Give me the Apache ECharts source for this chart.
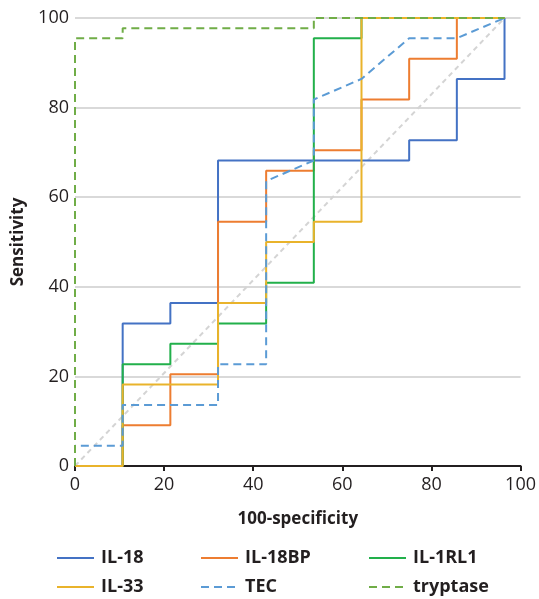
<!DOCTYPE html>
<html>
<head>
<meta charset="utf-8">
<script src="https://cdn.jsdelivr.net/npm/echarts@6/dist/echarts.min.js"></script>
<style>
  html, body { margin: 0; padding: 0; background: #fff; }
  #chart { width: 539px; height: 599px; }
</style>
</head>
<body>
<div id="chart"></div>
<script>
// 数据：100-specificity (x) 与 sensitivity (y) 的拐点
var seriesNames = ['IL-18', 'IL-18BP', 'IL-1RL1', 'IL-33', 'TEC', 'tryptase'];
var xTicks = [0, 20, 40, 60, 80, 100];
var yTicks = [0, 20, 40, 60, 80, 100];

var il18X = [0, 10.7, 10.7, 21.4, 21.4, 32.1, 32.1, 75, 75, 85.7, 85.7, 96.4, 96.4];
var il18Y = [0, 0, 31.8, 31.8, 36.4, 36.4, 68.2, 68.2, 72.7, 72.7, 86.4, 86.4, 100];

var il18bpX = [0, 10.7, 10.7, 21.4, 21.4, 32.1, 32.1, 42.9, 42.9, 53.6, 53.6, 64.3, 64.3, 75, 75, 85.7, 85.7, 96.4];
var il18bpY = [0, 0, 9.1, 9.1, 20.5, 20.5, 54.5, 54.5, 65.9, 65.9, 70.5, 70.5, 81.8, 81.8, 90.9, 90.9, 100, 100];

var il1rl1X = [0, 10.7, 10.7, 21.4, 21.4, 32.1, 32.1, 42.9, 42.9, 53.6, 53.6, 64.3, 64.3, 96.4];
var il1rl1Y = [0, 0, 22.7, 22.7, 27.3, 27.3, 31.8, 31.8, 40.9, 40.9, 95.5, 95.5, 100, 100];

var il33X = [0, 10.7, 10.7, 32.1, 32.1, 42.9, 42.9, 53.6, 53.6, 64.3, 64.3, 96.4];
var il33Y = [0, 0, 18.2, 18.2, 36.4, 36.4, 50, 50, 54.5, 54.5, 100, 100];

var tecX = [0, 0, 10.7, 10.7, 32.1, 32.1, 42.9, 42.9, 53.6, 53.6, 64.3, 75, 85.7, 96.4];
var tecY = [0, 4.5, 4.5, 13.6, 13.6, 22.7, 22.7, 63.6, 68.2, 81.8, 86.4, 95.5, 95.5, 100];

var tryptaseX = [0, 0, 10.7, 10.7, 53.6, 53.6, 96.4];
var tryptaseY = [0, 95.5, 95.5, 97.7, 97.7, 100, 100];

var refX = [0, 96.4];
var refY = [0, 100];

function pairs(xs, ys) {
    var out = [];
    for (var i = 0; i < xs.length; i++) {
        out.push([xs[i], ys[i]]);
    }
    return out;
}

var curves = [
    {name: seriesNames[0], x: il18X, y: il18Y, color: '#4472C4', type: 'solid'},
    {name: seriesNames[1], x: il18bpX, y: il18bpY, color: '#ED7D31', type: 'solid'},
    {name: seriesNames[2], x: il1rl1X, y: il1rl1Y, color: '#22B04B', type: 'solid'},
    {name: seriesNames[3], x: il33X, y: il33Y, color: '#E9B32B', type: 'solid'},
    {name: seriesNames[4], x: tecX, y: tecY, color: '#5B9BD5', type: [8, 5]},
    {name: seriesNames[5], x: tryptaseX, y: tryptaseY, color: '#70AD47', type: [8, 5]}
];

var fontFamily = '"Open Sans", "Noto Sans", sans-serif';
var textColor = '#231f20';

var series = [{
    name: 'ref',
    type: 'line',
    data: pairs(refX, refY),
    showSymbol: false,
    symbol: 'none',
    silent: true,
    lineStyle: {color: '#d4d4d4', width: 2, type: [5, 4]},
    z: 1
}];
for (var c of curves) {
    series.push({
        name: c.name,
        type: 'line',
        data: pairs(c.x, c.y),
        showSymbol: false,
        symbol: 'none',
        color: c.color,
        lineStyle: {color: c.color, width: 2, type: c.type},
        z: 2
    });
}

// 每个图例单独摆放，保持三列对齐
var legendLeft = [56, 200, 368];
var legendTop = [548, 577];
var legends = [];
for (var i = 0; i < seriesNames.length; i++) {
    legends.push({
        data: [seriesNames[i]],
        left: legendLeft[i % 3],
        top: legendTop[Math.floor(i / 3)],
        itemWidth: 37,
        itemHeight: 20,
        itemGap: 0,
        padding: 0,
        selectedMode: false,
        itemStyle: {opacity: 0},
        textStyle: {
            fontSize: 18,
            fontWeight: 'bold',
            fontFamily: fontFamily,
            color: textColor,
            lineHeight: 20,
            padding: [0, 0, 0, 2]
        }
    });
}

var chart = echarts.init(document.getElementById('chart'));
chart.setOption({
    animation: false,
    backgroundColor: '#fff',
    grid: {left: 75, right: 15, top: 18, bottom: 133},
    legend: legends,
    xAxis: {
        type: 'value',
        min: xTicks[0],
        max: xTicks[xTicks.length - 1],
        interval: 20,
        name: '100-specificity',
        nameLocation: 'middle',
        nameGap: 45,
        nameTextStyle: {fontSize: 17, fontWeight: 'bold', fontFamily: fontFamily, color: textColor},
        axisLine: {lineStyle: {color: '#231f20', width: 2}},
        axisTick: {show: true, length: 5, lineStyle: {color: '#231f20', width: 2}},
        axisLabel: {fontSize: 18, fontFamily: fontFamily, color: textColor, margin: 10},
        splitLine: {show: false}
    },
    yAxis: {
        type: 'value',
        min: yTicks[0],
        max: yTicks[yTicks.length - 1],
        interval: 20,
        name: 'Sensitivity',
        nameLocation: 'middle',
        nameGap: 48,
        nameTextStyle: {fontSize: 17, fontWeight: 'bold', fontFamily: fontFamily, color: textColor},
        axisLine: {show: false},
        axisTick: {show: false},
        axisLabel: {fontSize: 18, fontFamily: fontFamily, color: textColor, margin: 6},
        splitLine: {lineStyle: {color: '#d9d9d9', width: 2}}
    },
    series: series
});
</script>
</body>
</html>
